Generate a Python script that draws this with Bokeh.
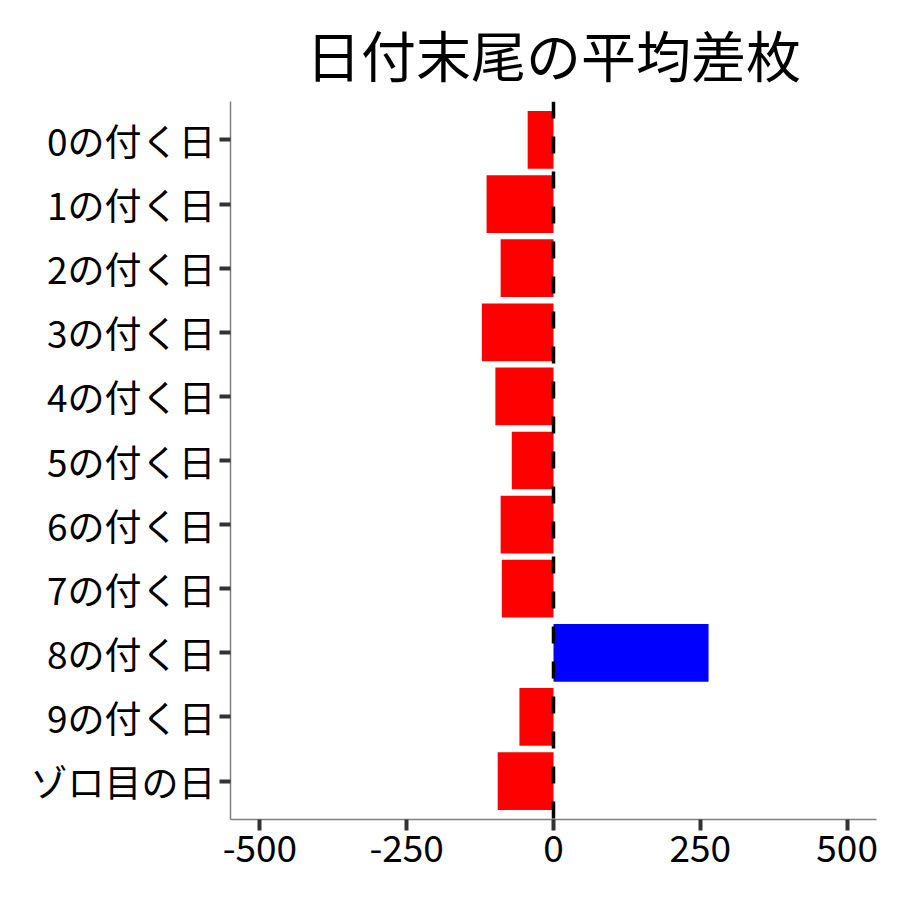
from bokeh.plotting import figure
from bokeh.models import FactorRange, Range1d, Span, ColumnDataSource, FixedTicker
from bokeh.embed import file_html
from bokeh.resources import INLINE

categories = ["0の付く日", "1の付く日", "2の付く日", "3の付く日", "4の付く日",
              "5の付く日", "6の付く日", "7の付く日", "8の付く日", "9の付く日", "ゾロ目の日"]
values = [-44, -114, -90, -122, -99, -71, -90, -88, 264, -58, -95]
x_ticks = [-500, -250, 0, 250, 500]
x_tick_labels = ["-500", "-250", "0", "250", "500"]
title_text = "日付末尾の平均差枚"

FONT = "Noto Sans CJK JP"
colors = ["#0000FF" if v > 0 else "#FF0000" for v in values]
src = ColumnDataSource(dict(cat=categories, val=values, color=colors))

yr = FactorRange(factors=list(reversed(categories)), range_padding=0.1,
                 range_padding_units="absolute")
p = figure(width=892, height=892, y_range=yr, x_range=Range1d(-550, 550),
           output_backend="svg", toolbar_location=None, title=title_text,
           min_border_left=230, min_border_right=16, min_border_top=101,
           min_border_bottom=73)

p.hbar(y="cat", right="val", left=0, height=0.9, color="color", source=src,
       line_color=None)
p.add_layout(Span(location=0, dimension="height", line_color="black",
                  line_width=3.5, line_dash="17 18"))

p.title.text_font = FONT
p.title.text_font_size = "55px"
p.title.text_font_style = "normal"
p.title.align = "center"
p.title.vertical_align = "bottom"
p.title.text_color = "black"
p.title.standoff = 17

p.outline_line_color = None
p.xgrid.grid_line_color = None
p.ygrid.grid_line_color = None
p.background_fill_color = "white"

for ax in (p.xaxis[0], p.yaxis[0]):
    ax.axis_line_color = "#808080"
    ax.axis_line_width = 1.5
    ax.major_tick_line_color = "#333333"
    ax.major_tick_line_width = 4
    ax.major_tick_out = 11
    ax.major_tick_in = 0
    ax.minor_tick_line_color = None
    ax.major_label_text_font = FONT
    ax.major_label_text_font_size = "37px"
    ax.major_label_text_color = "black"

p.xaxis[0].ticker = FixedTicker(ticks=x_ticks)
p.xaxis[0].major_label_overrides = {t: s for t, s in zip(x_ticks, x_tick_labels)}
p.xaxis[0].major_label_standoff = 4
p.yaxis[0].major_label_standoff = 4

open("out.html", "w").write(file_html(p, INLINE))
